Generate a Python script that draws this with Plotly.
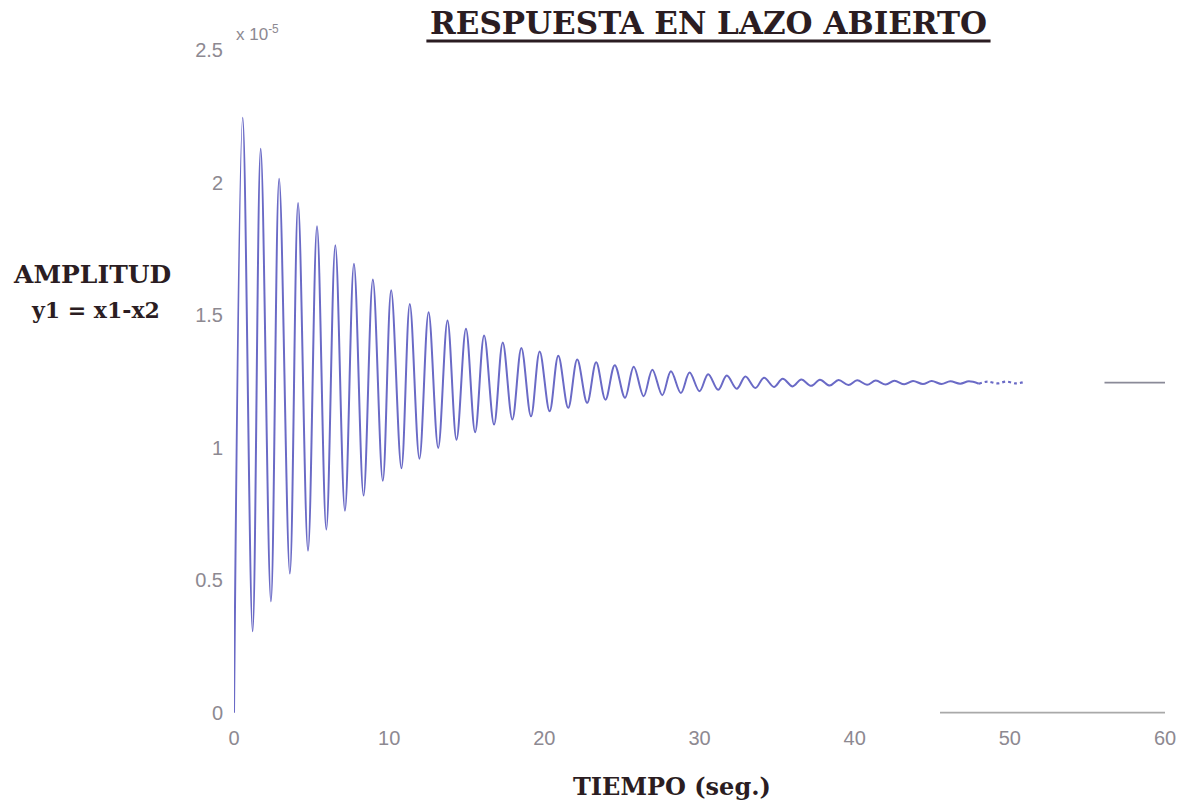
import plotly.graph_objects as go

# ---- data (time in s, amplitude in units of 1e-5) ----
start_t = [0.0]
start_y = [0.0]

peak_t = [0.56, 1.72, 2.91, 4.13, 5.35, 6.53, 7.73, 8.95, 10.13, 11.33,
          12.54, 13.76, 14.95, 16.12, 17.32, 18.52, 19.70, 20.90, 22.12, 23.34,
          24.54, 25.76, 26.96, 28.16, 29.36, 30.56, 31.76, 32.96, 34.16, 35.36,
          36.56, 37.76, 38.96, 40.16, 41.36, 42.56, 43.76, 44.96, 46.16, 47.36,
          48.56, 49.76, 50.96]
peak_y = [2.244, 2.127, 2.014, 1.923, 1.835, 1.763, 1.694, 1.634, 1.594, 1.542,
          1.511, 1.480, 1.448, 1.423, 1.397, 1.376, 1.363, 1.347, 1.332, 1.322,
          1.311, 1.305, 1.294, 1.288, 1.283, 1.277, 1.272, 1.268, 1.264, 1.260,
          1.257, 1.256, 1.255, 1.254, 1.253, 1.252, 1.251, 1.251, 1.250, 1.250,
          1.249, 1.249, 1.248]

trough_t = [1.20, 2.38, 3.60, 4.77, 5.95, 7.15, 8.35, 9.59, 10.79, 11.95,
            13.16, 14.34, 15.54, 16.76, 17.94, 19.14, 20.34, 21.54, 22.76, 23.94,
            25.20, 26.40, 27.60, 28.80, 30.00, 31.20, 32.40, 33.60, 34.80, 36.00,
            37.20, 38.40, 39.60, 40.80, 42.00, 43.20, 44.40, 45.60, 46.80, 48.00,
            49.20, 50.40]
trough_y = [0.307, 0.420, 0.525, 0.611, 0.691, 0.762, 0.819, 0.875, 0.922, 0.958,
            0.999, 1.030, 1.058, 1.087, 1.106, 1.118, 1.137, 1.150, 1.169, 1.181,
            1.188, 1.194, 1.198, 1.206, 1.213, 1.218, 1.222, 1.225, 1.229, 1.231,
            1.233, 1.234, 1.236, 1.237, 1.238, 1.239, 1.240, 1.240, 1.241, 1.241,
            1.242, 1.242]

steady_t = [56.1, 60.0]
steady_y = [1.245, 1.245]
base_t = [45.5, 60.0]
base_y = [0.0, 0.0]

x_ticks = [0, 10, 20, 30, 40, 50, 60]
y_ticks = [0, 0.5, 1, 1.5, 2, 2.5]
y_tick_text = ["0", "0.5", "1", "1.5", "2", "2.5"]

SOLID_END = 48.0

# ---- build the curve from the extrema ----
pts = sorted(list(zip(start_t, start_y)) + list(zip(peak_t, peak_y)) + list(zip(trough_t, trough_y)))
solid = [p for p in pts if p[0] <= SOLID_END]
dotted = [p for p in pts if p[0] >= SOLID_END]

LINE_COLOR = "#6a6ac6"
GRAY = "#8d8991"
DARK = "#2b1d22"
SERIF = "DejaVu Serif"

fig = go.Figure()
fig.add_trace(go.Scatter(x=[p[0] for p in solid], y=[p[1] for p in solid], mode="lines",
                         line=dict(color=LINE_COLOR, width=2, shape="spline", smoothing=1),
                         hoverinfo="skip", showlegend=False))
fig.add_trace(go.Scatter(x=[p[0] for p in dotted], y=[p[1] for p in dotted], mode="lines",
                         line=dict(color=LINE_COLOR, width=2.2, shape="spline", smoothing=1, dash="dot"),
                         hoverinfo="skip", showlegend=False))
fig.add_trace(go.Scatter(x=steady_t, y=steady_y, mode="lines",
                         line=dict(color="#8a8a98", width=1.8),
                         hoverinfo="skip", showlegend=False))
fig.add_trace(go.Scatter(x=base_t, y=base_y, mode="lines",
                         line=dict(color="#a9a9a9", width=1.8),
                         hoverinfo="skip", showlegend=False))

L, R, T = 234, 20, 50
PLOT_W = 1188 - L - R
Y0, Y1 = -0.02, 2.5
PX_PER_UNIT = 265.2
PLOT_H = (Y1 - Y0) * PX_PER_UNIT
B = 805 - T - PLOT_H


def px(xp):
    return (xp - L) / PLOT_W


def py(yp):
    return (T + PLOT_H - yp) / PLOT_H


fig.update_layout(
    width=1188, height=805,
    margin=dict(l=L, r=R, t=T, b=B),
    paper_bgcolor="white", plot_bgcolor="white",
    showlegend=False,
    xaxis=dict(range=[0, 60], tickvals=x_ticks, showgrid=False, zeroline=False,
               showline=False, ticks="", tickfont=dict(family="Liberation Sans", size=20, color=GRAY),
               ticklabelstandoff=6),
    yaxis=dict(range=[Y0, Y1], tickvals=y_ticks, ticktext=y_tick_text, showgrid=False,
               zeroline=False, showline=False, ticks="",
               tickfont=dict(family="Liberation Sans", size=20, color=GRAY),
               ticklabelstandoff=10),
    annotations=[
        dict(text="<b>RESPUESTA EN LAZO ABIERTO</b>", xref="paper", yref="paper",
             x=px(710), y=py(23), xanchor="center", yanchor="middle", showarrow=False,
             font=dict(family=SERIF, size=31, color=DARK)),
        dict(text="<b>AMPLITUD</b>", xref="paper", yref="paper",
             x=px(92), y=py(275), xanchor="center", yanchor="middle", showarrow=False,
             font=dict(family=SERIF, size=25, color=DARK)),
        dict(text="<b>y1 = x1-x2</b>", xref="paper", yref="paper",
             x=px(95), y=py(310), xanchor="center", yanchor="middle", showarrow=False,
             font=dict(family=SERIF, size=22, color=DARK)),
        dict(text="<b>TIEMPO (seg.)</b>", xref="paper", yref="paper",
             x=px(673), y=py(787), xanchor="center", yanchor="middle", showarrow=False,
             font=dict(family=SERIF, size=24, color=DARK)),
        dict(text="x 10<sup>-5</sup>", xref="paper", yref="paper",
             x=px(234), y=py(33), xanchor="left", yanchor="middle", showarrow=False,
             font=dict(family="Liberation Sans", size=17, color=GRAY)),
    ],
    shapes=[
        dict(type="line", xref="paper", yref="paper", x0=px(427), x1=px(993),
             y0=py(41), y1=py(41), line=dict(color=DARK, width=3)),
    ],
)

fig.write_html("out.html")
